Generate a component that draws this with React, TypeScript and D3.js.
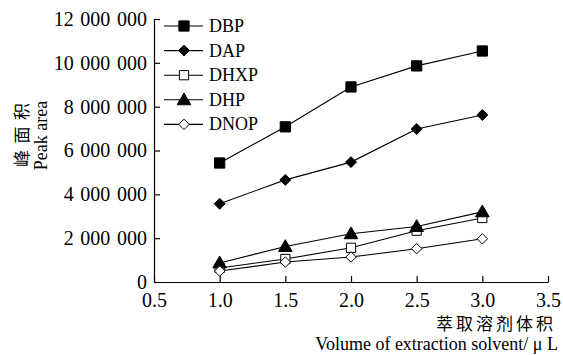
import * as d3 from "d3";
import { useEffect, useRef } from "react";

// x values (µL) and peak areas
const volumes = [1.0, 1.5, 2.0, 2.5, 3.0];
const seriesNames = ["DBP", "DAP", "DHXP", "DHP", "DNOP"];
const dbp = [5430000, 7080000, 8900000, 9860000, 10540000];
const dap = [3570000, 4660000, 5470000, 6980000, 7620000];
const dhxp = [640000, 1050000, 1560000, 2340000, 2920000];
const dhp = [870000, 1620000, 2200000, 2530000, 3200000];
const dnop = [500000, 910000, 1140000, 1520000, 1970000];
const xTicks = [0.5, 1.0, 1.5, 2.0, 2.5, 3.0, 3.5];
const yTicks = [0, 2000000, 4000000, 6000000, 8000000, 10000000, 12000000];

const W = 563;
const H = 355;
const FONT = "Liberation Serif";
const CJK = "Noto Sans CJK SC";

// diamond as a square turned 45 degrees (d3's own diamond is too narrow)
const diamond = {
  draw(ctx: any, size: number) {
    const r = Math.sqrt(size / 2);
    ctx.moveTo(0, -r);
    ctx.lineTo(r, 0);
    ctx.lineTo(0, r);
    ctx.lineTo(-r, 0);
    ctx.closePath();
  },
};

export default function App() {
  const ref = useRef<SVGSVGElement>(null);

  useEffect(() => {
    const svg = d3.select(ref.current);
    svg.selectAll("*").remove();

    const x = d3.scaleLinear().domain([0.5, 3.5]).range([154, 548]);
    const y = d3.scaleLinear().domain([0, 12000000]).range([282, 19]);

    // thousands split by a slightly wide space, as in the figure
    const fmt = (v: number) => d3.format(",")(v).replace(/,/g, "\u2004");

    // axes (ticks pointing inward)
    const ya = svg
      .append("g")
      .attr("transform", `translate(${x.range()[0]},0)`)
      .call(d3.axisLeft(y).tickValues(yTicks).tickSizeInner(-6).tickSizeOuter(0).tickFormat((d) => fmt(+d)).tickPadding(7));
    const xa = svg
      .append("g")
      .attr("transform", `translate(0,${y.range()[0]})`)
      .call(d3.axisBottom(x).tickValues(xTicks).tickSizeInner(-6).tickSizeOuter(0).tickFormat(d3.format(".1f")).tickPadding(11));
    [ya, xa].forEach((g) => {
      g.attr("font-family", FONT).attr("font-size", 20);
      g.selectAll("path,line").attr("stroke", "#000").attr("stroke-width", 1.2);
      g.selectAll("text").attr("fill", "#000");
    });

    const data = [dbp, dap, dhxp, dhp, dnop];
    const shapes = [
      { sym: d3.symbolSquare, size: 105, fill: "#000" },
      { sym: diamond, size: 60, fill: "#000" },
      { sym: d3.symbolSquare, size: 85, fill: "#fff" },
      { sym: d3.symbolTriangle, size: 80, fill: "#000" },
      { sym: diamond, size: 55, fill: "#fff" },
    ];
    const dy = (s: any) => (s === d3.symbolTriangle ? 1 : 0);

    const line = d3
      .line<number>()
      .x((_, i) => x(volumes[i]))
      .y((d) => y(d));

    data.forEach((vals) => {
      svg.append("path").attr("d", line(vals)).attr("fill", "none").attr("stroke", "#000").attr("stroke-width", 1.1);
    });
    data.forEach((vals, k) => {
      const s = shapes[k];
      svg
        .append("g")
        .selectAll("path")
        .data(vals)
        .join("path")
        .attr("transform", (d, i) => `translate(${x(volumes[i])},${y(d) + dy(s.sym)})`)
        .attr("d", d3.symbol(s.sym, s.size)())
        .attr("fill", s.fill)
        .attr("stroke", "#000")
        .attr("stroke-width", 1);
    });

    // legend
    const leg = svg.append("g").attr("font-family", FONT).attr("font-size", 18);
    seriesNames.forEach((name, k) => {
      const cy = 26 + k * 24.6;
      const s = shapes[k];
      leg.append("line").attr("x1", 164).attr("x2", 203).attr("y1", cy).attr("y2", cy).attr("stroke", "#000").attr("stroke-width", 1.1);
      leg
        .append("path")
        .attr("transform", `translate(184,${cy + dy(s.sym)})`)
        .attr("d", d3.symbol(s.sym, s.size)())
        .attr("fill", s.fill)
        .attr("stroke", "#000");
      leg.append("text").attr("x", 209).attr("y", cy + 6).text(name);
    });

    // axis titles
    const yt = svg.append("g").attr("transform", "rotate(-90)");
    yt.append("text").attr("x", -167).attr("y", 28).attr("font-family", CJK).attr("font-size", 17).attr("letter-spacing", 6.5).text("峰面积");
    yt.append("text").attr("x", -135.5).attr("y", 47).attr("text-anchor", "middle").attr("font-family", FONT).attr("font-size", 18).text("Peak area");

    svg.append("text").attr("x", 556).attr("y", 330).attr("text-anchor", "end").attr("font-family", CJK).attr("font-size", 17).attr("letter-spacing", 3).text("萃取溶剂体积");
    svg.append("text").attr("x", 558).attr("y", 350).attr("text-anchor", "end").attr("font-family", FONT).attr("font-size", 18).text("Volume of extraction solvent/ μ L");
  }, []);

  return (
    <svg ref={ref} width={W} height={H} style={{ position: "absolute", left: 0, top: 0, background: "#fff" }} />
  );
}
